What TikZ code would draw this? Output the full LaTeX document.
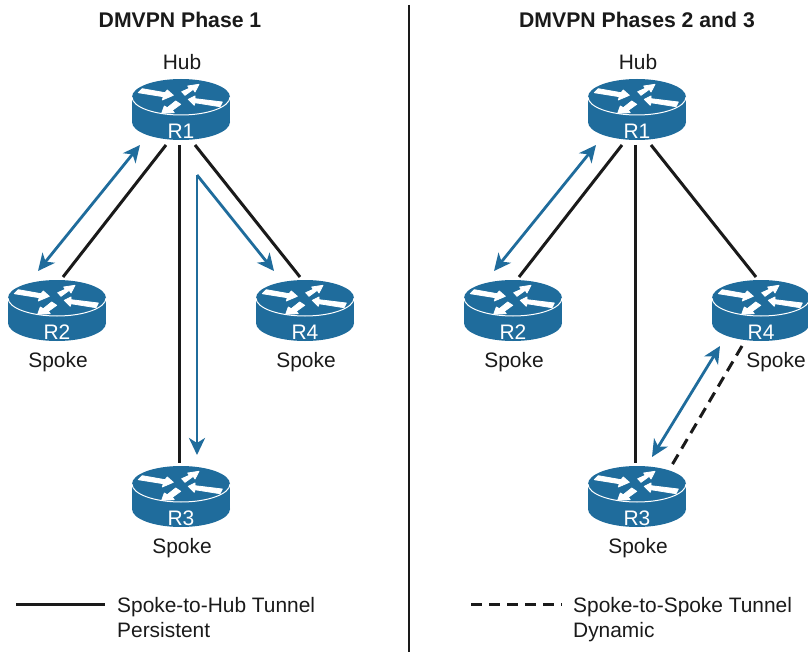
\documentclass[tikz,border=0pt]{standalone}
\usepackage{fontspec}
\setmainfont{Liberation Sans}
\usetikzlibrary{arrows.meta}
\definecolor{ciscoblue}{HTML}{1F6C9C}
\definecolor{inkblack}{HTML}{1A1A1A}
\tikzset{
  routerbox/.style={draw=none,fill=none,inner sep=0pt,outer sep=0pt,minimum width=98pt,minimum height=69pt},
  routertext/.style={text=white,font=\fontsize{21}{22}\selectfont,inner sep=0pt,text height=15pt,text depth=4pt},
  lbl/.style={text=inkblack,font=\fontsize{20.9}{22}\selectfont,inner sep=0pt,text height=15pt,text depth=4pt},
  ttl/.style={text=inkblack,font=\fontsize{21.2}{22}\selectfont\bfseries,inner sep=0pt},
  tunnel/.style={draw=inkblack,line width=3pt},
  dyn/.style={draw=inkblack,line width=3pt,dash pattern=on 11pt off 7pt},
  flow/.style={draw=ciscoblue,line width=2.8pt,{Stealth[length=17pt,width=16pt,inset=5pt]}-{Stealth[length=17pt,width=16pt,inset=5pt]}},
  flowone/.style={draw=ciscoblue,line width=2.8pt,-{Stealth[length=17pt,width=16pt,inset=5pt]}},
  glyph/.style={fill=white,draw=white,line width=0.8pt,line join=round}
}
\newcommand{\routerat}[4]{%
  \begin{scope}[shift={(#2,#3)}]
    \fill[ciscoblue] (0,25) ellipse [x radius=49pt,y radius=18pt];
    \fill[ciscoblue] (-49,0) rectangle (49,25);
    \fill[ciscoblue] (0,0) ellipse [x radius=49pt,y radius=18pt];
    \draw[white,line width=1pt] (-49,0) .. controls (-49,10) and (-27,18) .. (0,18) .. controls (27,18) and (49,10) .. (49,0);
    \path[glyph] (-38.7,-8.3) -- (-16,-4.3) -- (-13.7,-7) -- (-7.7,-1.7) -- (-18.7,3) -- (-17.7,-0.3) -- (-42.7,-4.3) -- cycle;
    \path[glyph] (0.7,-5.3) -- (8.3,-8.7) -- (6.7,-11) -- (18,-12.7) -- (14,-5) -- (12.3,-7.7) -- (4,-1.7) -- cycle;
    \path[glyph] (7.3,2.3) -- (14,-1) -- (14,1.7) -- (41.3,5) -- (39,9.7) -- (14,5.7) -- (13.3,8.3) -- cycle;
    \path[glyph] (-5.3,4) -- (-0.3,7.3) -- (-8.7,13.3) -- (-6.7,15.7) -- (-19.3,16.3) -- (-16.7,9) -- (-13.7,10.7) -- cycle;
  \end{scope}
  \node[routerbox] (#1) at (#2,#3+13.5) {};
  \node[routertext] (#1t) at (#2,#3+36) {#4};
}
\begin{document}
\begin{tikzpicture}[x=1pt,y=-1pt]
\useasboundingbox (0,0) rectangle (808,652);
\fill[white] (0,0) rectangle (808,652);
% divider
\coordinate (dtop) at (409,5);
\coordinate (dbot) at (409,652);
\draw[inkblack,line width=2.8pt] (dtop) -- (dbot);
% titles
\node[ttl] (t1) at (180,20) {DMVPN Phase 1};
\node[ttl] (t2) at (637,20) {DMVPN Phases 2 and 3};
% routers
\routerat{La}{181}{97}{R1}
\routerat{Lb}{57}{298}{R2}
\routerat{Ld}{305}{298}{R4}
\routerat{Lc}{181}{484}{R3}
\routerat{Ra}{637}{97}{R1}
\routerat{Rb}{513}{298}{R2}
\routerat{Rd}{761}{298}{R4}
\routerat{Rc}{637}{484}{R3}
% labels
\node[lbl] (h1) at (182,64.5) {Hub};
\node[lbl] (h2) at (638,64.5) {Hub};
\node[lbl] (s1) at (58,361.5) {Spoke};
\node[lbl] (s2) at (306,361.5) {Spoke};
\node[lbl] (s3) at (182,547.5) {Spoke};
\node[lbl] (s4) at (514,361.5) {Spoke};
\node[lbl] (s5) at (776,361.5) {Spoke};
\node[lbl] (s6) at (638,547.5) {Spoke};
% left tunnels
\draw[tunnel] ([xshift=-15pt]La.south) -- ([xshift=6pt]Lb.north);
\draw[tunnel] ([xshift=-2pt]La.south) -- ([xshift=-2pt]Lc.north);
\draw[tunnel] ([xshift=14pt]La.south) -- ([xshift=-5pt]Ld.north);
% left flows
\draw[flow] ([xshift=-41pt]La.south) -- ([xshift=-19pt,yshift=6pt]Lb.north);
\coordinate (bend) at (197,175);
\draw[flowone] (bend) -- ([xshift=16pt,yshift=8pt]Lc.north);
\draw[flowone] (bend) -- ([xshift=-31pt,yshift=6pt]Ld.north);
% right tunnels
\draw[tunnel] ([xshift=-15pt]Ra.south) -- ([xshift=6pt]Rb.north);
\draw[tunnel] ([xshift=-2pt]Ra.south) -- ([xshift=-2pt]Rc.north);
\draw[tunnel] ([xshift=14pt]Ra.south) -- ([xshift=-5pt]Rd.north);
\draw[flow] ([xshift=-41pt]Ra.south) -- ([xshift=-19pt,yshift=6pt]Rb.north);
% right spoke-to-spoke
\draw[dyn] ([xshift=-19pt]Rd.south) -- ([xshift=35pt,yshift=-2pt]Rc.north);
\draw[flow] ([xshift=-41pt]Rd.south) -- ([xshift=15pt,yshift=6pt]Rc.north);
% legend
\coordinate (k1a) at (16,604);
\coordinate (k1b) at (105,604);
\coordinate (k2a) at (471,604);
\coordinate (k2b) at (562,604);
\draw[tunnel] (k1a) -- (k1b);
\draw[dyn] (k2a) -- (k2b);
\node[lbl,anchor=west] (l1) at (117,607) {Spoke-to-Hub Tunnel};
\node[lbl,anchor=west] (l2) at (117,632) {Persistent};
\node[lbl,anchor=west] (l3) at (573,607) {Spoke-to-Spoke Tunnel};
\node[lbl,anchor=west] (l4) at (573,632) {Dynamic};
\end{tikzpicture}
\end{document}
